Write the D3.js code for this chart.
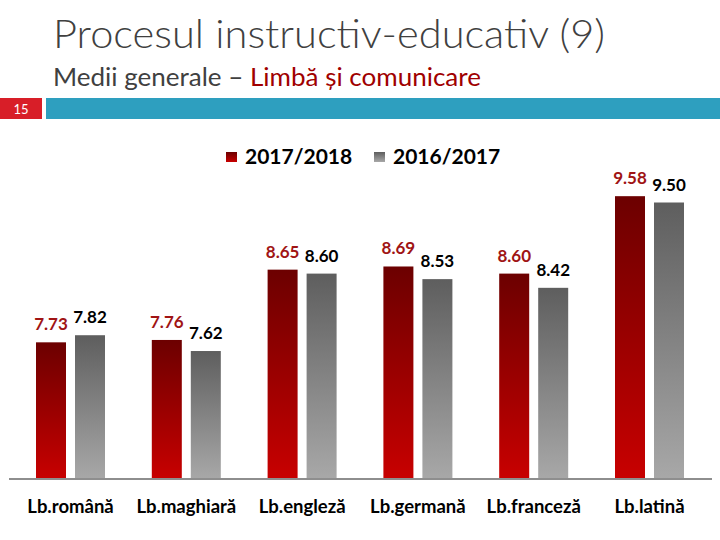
<!DOCTYPE html>
<html>
<head>
<meta charset="utf-8">
<script src="https://cdn.jsdelivr.net/npm/d3@7"></script>
<style>
  body { margin: 0; background: #fff; }
  svg { display: block; font-family: Lato, "Open Sans", sans-serif; }
</style>
</head>
<body>
<svg id="chart" width="720" height="540"></svg>
<script>
// data
const categories = ["Lb.română", "Lb.maghiară", "Lb.engleză", "Lb.germană", "Lb.franceză", "Lb.latină"];
const seriesNames = ["2017/2018", "2016/2017"];
const values2017 = [7.73, 7.76, 8.65, 8.69, 8.60, 9.58];
const values2016 = [7.82, 7.62, 8.60, 8.53, 8.42, 9.50];

const svg = d3.select("#chart");
const defs = svg.append("defs");

function grad(id, top, bottom) {
  const g = defs.append("linearGradient")
    .attr("id", id)
    .attr("x1", 0).attr("y1", 0).attr("x2", 0).attr("y2", 1);
  g.append("stop").attr("offset", "0%").attr("stop-color", top);
  g.append("stop").attr("offset", "100%").attr("stop-color", bottom);
}
grad("gRed", "#6c0000", "#c80000");
grad("gGrey", "#5e5e5e", "#a8a8a8");

// header
svg.append("text")
  .attr("x", 53).attr("y", 48)
  .attr("font-size", 40)
  .attr("font-weight", 300)
  .attr("fill", "#404040")
  .attr("textLength", 552)
  .attr("lengthAdjust", "spacingAndGlyphs")
  .text("Procesul instructiv-educativ (9)");

const sub = svg.append("text")
  .attr("x", 53).attr("y", 86)
  .attr("font-size", 25)
  .attr("textLength", 428)
  .attr("lengthAdjust", "spacingAndGlyphs");
sub.append("tspan").attr("fill", "#404040").text("Medii generale – ");
sub.append("tspan").attr("fill", "#a00000").text("Limbă și comunicare");

svg.append("rect").attr("x", 0).attr("y", 98).attr("width", 42).attr("height", 21).attr("fill", "#d81e28");
svg.append("rect").attr("x", 46).attr("y", 98).attr("width", 674).attr("height", 21).attr("fill", "#2e9fbf");
svg.append("text")
  .attr("x", 21).attr("y", 114)
  .attr("text-anchor", "middle")
  .attr("font-size", 13)
  .attr("fill", "#fff")
  .text("15");

// scales
const x = d3.scaleBand().domain(categories).range([12.6, 707.4]);
const xs = d3.scaleBand().domain(seriesNames).range([0, x.bandwidth()])
  .paddingInner(0.2308).paddingOuter(0.6);
const y = d3.scaleLinear().domain([6, 10]).range([479, 163]);

const rows = categories.map((c, i) => ({ cat: c, vals: [values2017[i], values2016[i]] }));

const groups = svg.append("g").selectAll("g")
  .data(rows).join("g")
  .attr("transform", d => `translate(${x(d.cat)},0)`);

const cells = groups.selectAll("g")
  .data(d => d.vals.map((v, k) => ({ v, s: seriesNames[k], k })))
  .join("g");

cells.append("rect")
  .attr("x", d => xs(d.s))
  .attr("y", d => y(d.v))
  .attr("width", xs.bandwidth())
  .attr("height", d => y(6) - y(d.v))
  .attr("fill", d => d.k === 0 ? "url(#gRed)" : "url(#gGrey)");

cells.append("text")
  .attr("x", d => xs(d.s) + xs.bandwidth() / 2)
  .attr("y", d => y(d.v) - 12)
  .attr("text-anchor", "middle")
  .attr("font-size", 17)
  .attr("font-weight", "bold")
  .attr("fill", d => d.k === 0 ? "#a01414" : "#000")
  .text(d => d.v.toFixed(2));

// baseline + category labels
const xAxis = svg.append("g")
  .attr("transform", `translate(0,${y(6)})`)
  .call(d3.axisBottom(x).tickSize(0).tickPadding(21));
xAxis.select(".domain").remove();
xAxis.append("line")
  .attr("x1", 9).attr("x2", 712)
  .attr("stroke", "#8e8e8e").attr("stroke-width", 2);
xAxis.selectAll(".tick text")
  .attr("font-family", "Lato, sans-serif")
  .attr("font-size", 18.5)
  .attr("font-weight", "bold")
  .attr("fill", "#000");

// legend
const legendX = [226, 374];
const legend = svg.append("g").selectAll("g")
  .data(seriesNames).join("g")
  .attr("transform", (d, i) => `translate(${legendX[i]},152)`);
legend.append("rect")
  .attr("width", 11).attr("height", 10)
  .attr("fill", (d, i) => i === 0 ? "url(#gRed)" : "url(#gGrey)");
legend.append("text")
  .attr("x", 19).attr("y", 11.5)
  .attr("font-size", 21)
  .attr("font-weight", "bold")
  .attr("fill", "#000")
  .text(d => d);
</script>
</body>
</html>
